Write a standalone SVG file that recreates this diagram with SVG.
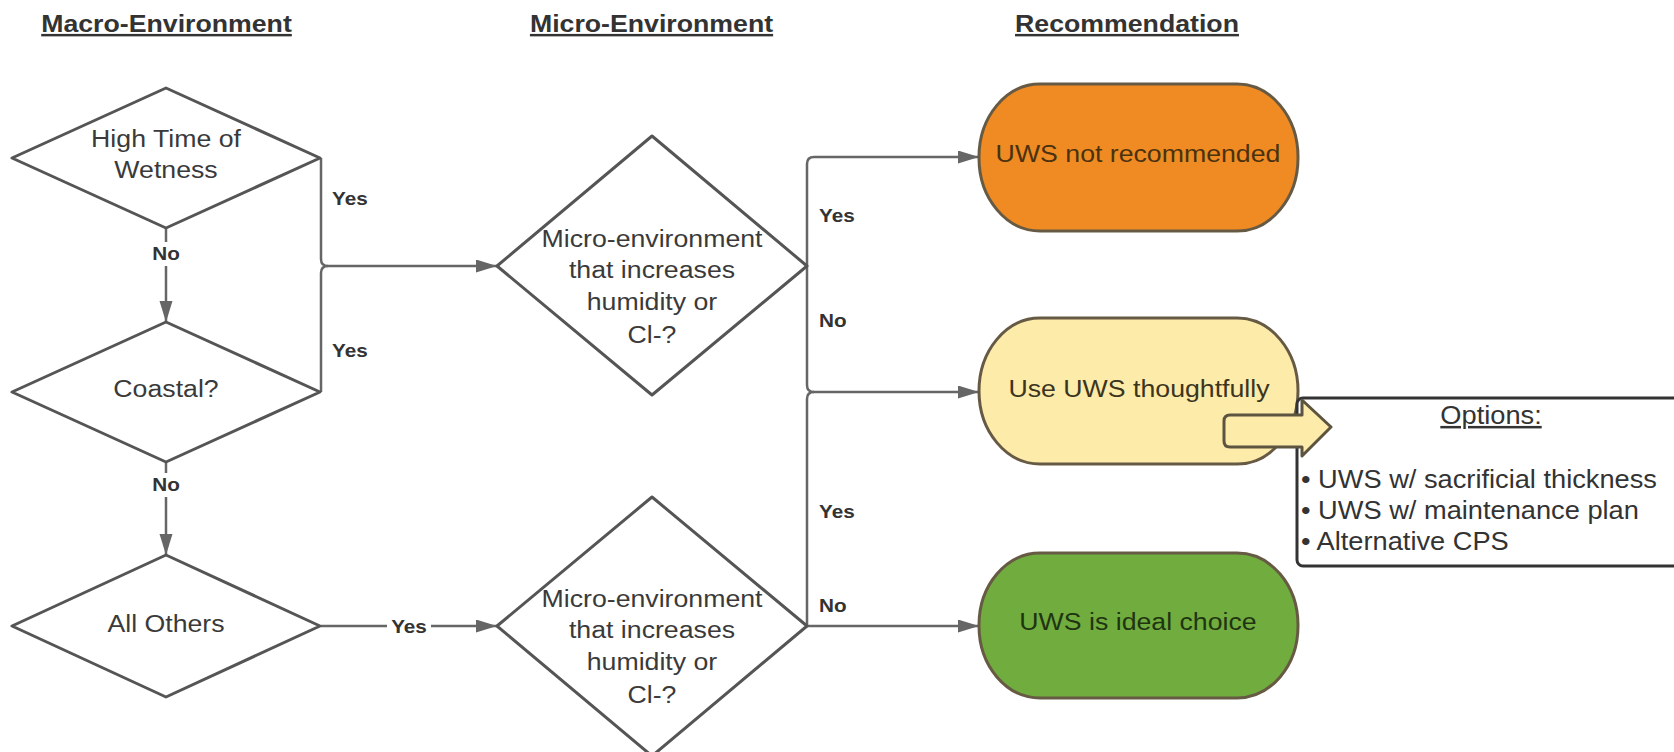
<svg xmlns="http://www.w3.org/2000/svg" width="1674" height="752" viewBox="0 0 1674 752">
<style>
  .title{font-family:"Liberation Sans",Arial,sans-serif;font-weight:bold;font-size:24.5px;fill:#333;text-decoration:underline;}
  .dtext{font-family:"Liberation Sans",Arial,sans-serif;font-size:24.5px;fill:#3a3a3a;}
  .lbl{font-family:"Liberation Sans",Arial,sans-serif;font-weight:bold;font-size:19px;fill:#333;}
  .dia{fill:#fff;stroke:#555;stroke-width:3;stroke-linejoin:round;}
  .conn{fill:none;stroke:#666;stroke-width:2.5;}
  .bg{fill:#fff;}
  .stad{stroke:#665a44;stroke-width:3;}
  .opt{font-family:"Liberation Sans",Arial,sans-serif;font-size:25px;fill:#333;}
</style>
<defs>
  <marker id="ah" markerUnits="userSpaceOnUse" markerWidth="22" markerHeight="14" refX="21" refY="6.5" orient="auto">
    <path d="M0,0 L21,6.5 L0,13 Z" fill="#666"/>
  </marker>
</defs>
<rect width="1674" height="752" fill="#fff"/>

<g id="titles">
  <text class="title" text-anchor="middle" transform="matrix(1.09 0 0 1 166.5 32)" x="0" y="0">Macro-Environment</text>
  <text class="title" text-anchor="middle" transform="matrix(1.09 0 0 1 651.5 32)" x="0" y="0">Micro-Environment</text>
  <text class="title" text-anchor="middle" transform="matrix(1.09 0 0 1 1127 32)" x="0" y="0">Recommendation</text>
</g>

<g id="connectors">
  <path class="conn" d="M166,228 L166,322" marker-end="url(#ah)"/>
  <path class="conn" d="M166,462 L166,555" marker-end="url(#ah)"/>
  <path class="conn" d="M321,158 L321,259 Q321,266 328,266 L497,266" marker-end="url(#ah)"/>
  <path class="conn" d="M321,392 L321,273 Q321,266 328,266"/>
  <path class="conn" d="M321,626 L497,626" marker-end="url(#ah)"/>
  <path class="conn" d="M807,266 L807,164 Q807,157 814,157 L979,157" marker-end="url(#ah)"/>
  <path class="conn" d="M807,266 L807,385 Q807,392 814,392 L979,392" marker-end="url(#ah)"/>
  <path class="conn" d="M807,626 L807,399 Q807,392 814,392"/>
  <path class="conn" d="M807,626 L979,626" marker-end="url(#ah)"/>
  <rect class="bg" x="150" y="242" width="32" height="24"/>
  <text class="lbl" text-anchor="middle" transform="matrix(1.09 0 0 1 166 260)">No</text>
  <rect class="bg" x="150" y="473" width="32" height="24"/>
  <text class="lbl" text-anchor="middle" transform="matrix(1.09 0 0 1 166 491)">No</text>
  <text class="lbl" transform="matrix(1.09 0 0 1 332 205)">Yes</text>
  <text class="lbl" transform="matrix(1.09 0 0 1 332 357)">Yes</text>
  <rect class="bg" x="387" y="615" width="44" height="22"/>
  <text class="lbl" text-anchor="middle" transform="matrix(1.09 0 0 1 409 633)">Yes</text>
  <text class="lbl" transform="matrix(1.09 0 0 1 819 222)">Yes</text>
  <text class="lbl" transform="matrix(1.09 0 0 1 819 327)">No</text>
  <text class="lbl" transform="matrix(1.09 0 0 1 819 518)">Yes</text>
  <text class="lbl" transform="matrix(1.09 0 0 1 819 612)">No</text>
</g>

<g id="high-tow">
  <polygon class="dia" points="166,88 320,158 166,228 12,158"/>
  <text class="dtext" text-anchor="middle" transform="matrix(1.09 0 0 1 166 0)"><tspan x="0" y="147">High Time of</tspan><tspan x="0" y="178">Wetness</tspan></text>
</g>
<g id="coastal">
  <polygon class="dia" points="166,322 320,392 166,462 12,392"/>
  <text class="dtext" text-anchor="middle" transform="matrix(1.09 0 0 1 166 397)">Coastal?</text>
</g>
<g id="all-others">
  <polygon class="dia" points="166,555 320,626 166,697 12,626"/>
  <text class="dtext" text-anchor="middle" transform="matrix(1.09 0 0 1 166 632)">All Others</text>
</g>
<g id="micro-1">
  <polygon class="dia" points="652,136 807,266 652,395 497,266"/>
  <text class="dtext" text-anchor="middle" transform="matrix(1.09 0 0 1 652 0)"><tspan x="0" y="247">Micro-environment</tspan><tspan x="0" y="278">that increases</tspan><tspan x="0" y="310">humidity or</tspan><tspan x="0" y="343">Cl-?</tspan></text>
</g>
<g id="micro-2">
  <polygon class="dia" points="652,497 807,626 652,756 497,626"/>
  <text class="dtext" text-anchor="middle" transform="matrix(1.09 0 0 1 652 0)"><tspan x="0" y="607">Micro-environment</tspan><tspan x="0" y="638">that increases</tspan><tspan x="0" y="670">humidity or</tspan><tspan x="0" y="703">Cl-?</tspan></text>
</g>

<g id="not-recommended">
  <rect class="stad" x="979" y="84" width="319" height="147" rx="61" ry="73" fill="#EF8B22"/>
  <text class="dtext" style="fill:#4a3210" text-anchor="middle" transform="matrix(1.09 0 0 1 1138 162)">UWS not recommended</text>
</g>
<g id="thoughtfully">
  <rect class="stad" x="979" y="318" width="319" height="146" rx="61" ry="73" fill="#FDEBAA"/>
  <text class="dtext" style="fill:#3b3520" text-anchor="middle" transform="matrix(1.09 0 0 1 1139 397)">Use UWS thoughtfully</text>
</g>
<g id="ideal">
  <rect class="stad" x="979" y="553" width="319" height="145" rx="61" ry="72" fill="#71AC3E"/>
  <text class="dtext" style="fill:#1f3512" text-anchor="middle" transform="matrix(1.09 0 0 1 1138 630)">UWS is ideal choice</text>
</g>

<g id="options">
  <rect x="1297" y="398" width="420" height="168" rx="6" fill="#fff" stroke="#333" stroke-width="3"/>
  <text class="opt" text-anchor="middle" style="text-decoration:underline" transform="matrix(1.09 0 0 1 1491 424)">Options:</text>
  <text class="opt" transform="matrix(1.09 0 0 1 1301 0)"><tspan x="0" y="488">• UWS w/ sacrificial thickness</tspan><tspan x="0" y="519">• UWS w/ maintenance plan</tspan><tspan x="0" y="550">• Alternative CPS</tspan></text>
</g>

<g id="block-arrow">
  <path d="M1224,421 Q1224,415 1230,415 L1302,415 L1302,400 L1331,427 L1302,456 L1302,447 L1230,447 Q1224,447 1224,441 Z" fill="#FDEBAA" stroke="#5d5440" stroke-width="3" stroke-linejoin="round"/>
</g>
</svg>
